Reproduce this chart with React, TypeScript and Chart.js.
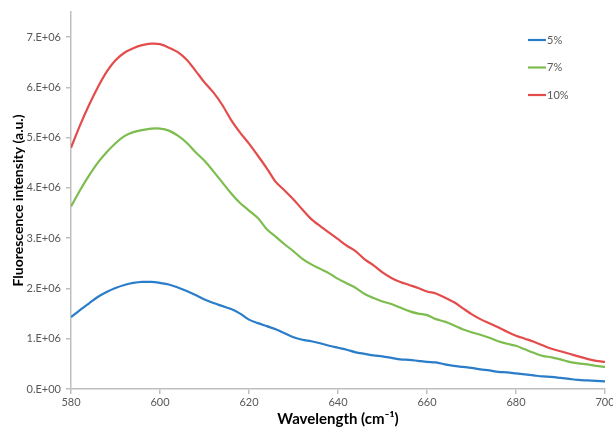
import React, { useEffect, useRef } from "react";
import { Chart, registerables } from "chart.js";

Chart.register(...registerables);

// Emission wavelength grid (cm⁻¹ as labelled on the axis)
const wavelengths = [
  580, 582, 584, 586, 588, 590, 592, 594, 596, 598, 600, 602, 604, 606, 608, 610,
  612, 614, 616, 618, 620, 622, 624, 626, 628, 630, 632, 634, 636, 638, 640, 642,
  644, 646, 648, 650, 652, 654, 656, 658, 660, 662, 664, 666, 668, 670, 672, 674,
  676, 678, 680, 682, 684, 686, 688, 690, 692, 694, 696, 698, 700,
];

// Fluorescence intensity, in units of 1e6 a.u.
const series5 = [
  1.43, 1.57, 1.7, 1.83, 1.93, 2.01, 2.07, 2.11, 2.13, 2.13, 2.11, 2.08, 2.02, 1.95, 1.87, 1.78,
  1.71, 1.65, 1.59, 1.5, 1.38, 1.31, 1.25, 1.19, 1.11, 1.03, 0.98, 0.95, 0.91, 0.86, 0.82, 0.78,
  0.73, 0.7, 0.67, 0.65, 0.62, 0.59, 0.58, 0.56, 0.54, 0.53, 0.49, 0.46, 0.44, 0.42, 0.39, 0.37,
  0.34, 0.33, 0.31, 0.29, 0.27, 0.25, 0.24, 0.22, 0.2, 0.18, 0.17, 0.16, 0.15,
];
const series7 = [
  3.63, 3.95, 4.24, 4.5, 4.71, 4.89, 5.03, 5.11, 5.15, 5.18, 5.18, 5.14, 5.04, 4.9, 4.71, 4.54,
  4.33, 4.11, 3.89, 3.7, 3.55, 3.4, 3.18, 3.03, 2.88, 2.74, 2.59, 2.48, 2.39, 2.3, 2.19, 2.1,
  2.01, 1.89, 1.81, 1.74, 1.69, 1.62, 1.55, 1.5, 1.47, 1.39, 1.34, 1.27, 1.19, 1.13, 1.08, 1.02,
  0.95, 0.9, 0.86, 0.79, 0.72, 0.66, 0.63, 0.59, 0.54, 0.51, 0.49, 0.46, 0.44,
];
const series10 = [
  4.8, 5.24, 5.64, 6.0, 6.31, 6.54, 6.69, 6.78, 6.84, 6.87, 6.86, 6.79, 6.7, 6.55, 6.33, 6.1,
  5.9, 5.65, 5.35, 5.1, 4.88, 4.64, 4.39, 4.12, 3.95, 3.77, 3.57, 3.38, 3.24, 3.11, 2.98, 2.85,
  2.74, 2.58, 2.46, 2.32, 2.21, 2.13, 2.07, 2.01, 1.94, 1.9, 1.82, 1.73, 1.61, 1.49, 1.39, 1.31,
  1.23, 1.14, 1.06, 1.0, 0.94, 0.87, 0.8, 0.75, 0.7, 0.65, 0.6, 0.56, 0.54,
];

const seriesLabels = ["5%", "7%", "10%"];
const seriesColors = ["#2a7dc8", "#7dbd4f", "#e44c4c"];
const yTickValues = [0, 1, 2, 3, 4, 5, 6, 7];

const FONT = "Lato, 'Open Sans', sans-serif";
const TEXT_GRAY = "#595959";
const AXIS_GRAY = "#bfbfbf";

const toPoints = (vals: number[]) =>
  vals.map((v, i) => ({ x: wavelengths[i], y: v * 1e6 }));

const formatSci = (v: number) => {
  if (v === 0) return "0.E+00";
  const m = Math.round(v / 1e6);
  return `${m}.E+06`;
};

// Vertical legend drawn inside the plot area, top-right
const insideLegend = {
  id: "insideLegend",
  afterDraw(chart: any) {
    const { ctx } = chart;
    const x0 = 528;
    const lineLen = 18;
    const startY = 40;
    const gap = 27.5;
    ctx.save();
    ctx.font = `11px ${FONT}`;
    ctx.textBaseline = "middle";
    ctx.textAlign = "left";
    chart.data.datasets.forEach((ds: any, i: number) => {
      const y = startY + i * gap;
      ctx.strokeStyle = ds.borderColor;
      ctx.lineWidth = 2.2;
      ctx.beginPath();
      ctx.moveTo(x0, y);
      ctx.lineTo(x0 + lineLen, y);
      ctx.stroke();
      ctx.fillStyle = TEXT_GRAY;
      ctx.fillText(ds.label, x0 + lineLen + 1, y);
    });
    ctx.restore();
  },
};

export default function App() {
  const canvasRef = useRef<HTMLCanvasElement | null>(null);

  useEffect(() => {
    if (!canvasRef.current) return;
    const allSeries = [series5, series7, series10];
    const chart = new Chart(canvasRef.current, {
      type: "line",
      data: {
        datasets: allSeries.map((vals, i) => ({
          label: seriesLabels[i],
          data: toPoints(vals),
          borderColor: seriesColors[i],
          backgroundColor: seriesColors[i],
          borderWidth: 2.2,
          pointRadius: 0,
          tension: 0.3,
          fill: false,
        })),
      },
      options: {
        responsive: false,
        animation: false,
        layout: { padding: { left: 0, top: 12, right: 8, bottom: 0 } },
        plugins: {
          legend: { display: false },
          tooltip: { enabled: false },
        },
        scales: {
          x: {
            type: "linear",
            min: 580,
            max: 700,
            afterFit: (s: any) => {
              s.height = 40;
              s.paddingLeft = 0;
              s.paddingRight = 0;
            },
            ticks: {
              stepSize: 20,
              color: TEXT_GRAY,
              font: { family: FONT, size: 11 },
              padding: 2,
            },
            grid: {
              drawOnChartArea: false,
              drawTicks: true,
              tickLength: 5,
              color: AXIS_GRAY,
              lineWidth: 1.5,
            },
            border: { color: AXIS_GRAY, width: 1.5 },
            title: {
              display: true,
              text: "Wavelength (cm⁻¹)",
              color: "#000000",
              font: { family: FONT, size: 15, weight: "bold" },
              padding: { top: 0, bottom: 1 },
            },
          },
          y: {
            type: "linear",
            min: 0,
            max: 7.5e6,
            afterFit: (s: any) => {
              s.width = 71;
              s.paddingTop = 0;
              s.paddingBottom = 0;
            },
            afterBuildTicks: (s: any) => {
              s.ticks = yTickValues.map((v) => ({ value: v * 1e6 }));
            },
            ticks: {
              stepSize: 1e6,
              color: TEXT_GRAY,
              font: { family: FONT, size: 11 },
              padding: 5,
              callback: (v: any) => formatSci(Number(v)),
            },
            grid: {
              drawOnChartArea: false,
              drawTicks: true,
              tickLength: 5,
              color: AXIS_GRAY,
              lineWidth: 1.5,
            },
            border: { color: AXIS_GRAY, width: 1.5 },
            title: {
              display: true,
              text: "Fluorescence intensity (a.u.)",
              color: "#000000",
              font: { family: FONT, size: 14, weight: "bold" },
              padding: { top: 10, bottom: 0 },
            },
          },
        },
      },
      plugins: [insideLegend],
    });
    return () => chart.destroy();
  }, []);

  return (
    <div style={{ position: "fixed", left: 0, top: 0, width: 613, height: 429, background: "#ffffff" }}>
      <canvas ref={canvasRef} width={613} height={429} />
    </div>
  );
}
